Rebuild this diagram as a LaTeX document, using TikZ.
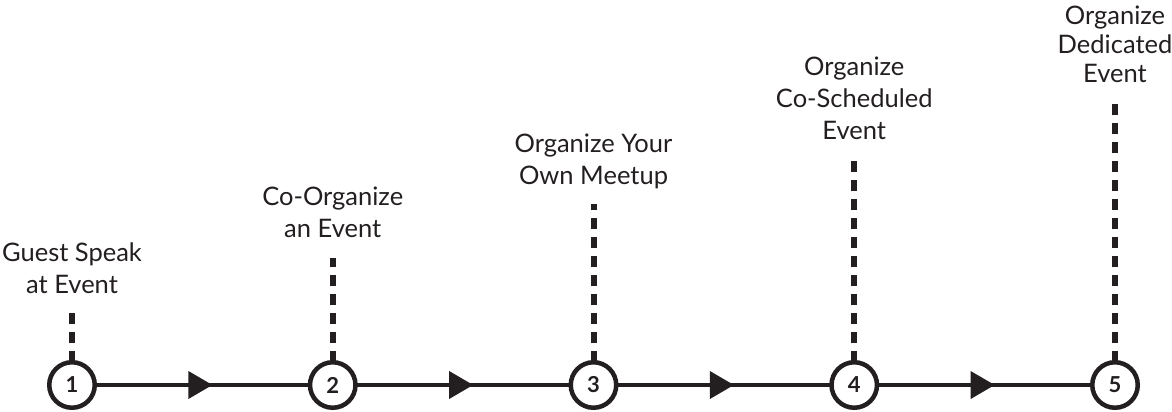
\documentclass[tikz,border=0pt]{standalone}
\usepackage{fontspec}
\setmainfont{Lato}
\usetikzlibrary{decorations.markings}
\definecolor{ink}{HTML}{231F20}
\begin{document}
\begin{tikzpicture}[x=1pt,y=-1pt, every path/.style={color=ink},
  stepnode/.style={circle, draw=ink, text=ink, line width=4.5pt, minimum size=45.5pt, inner sep=0pt, outer sep=0pt,
    font=\fontsize{22}{22}\selectfont\bfseries},
  flow/.style={draw=ink, line width=4.3pt, postaction={decorate},
    decoration={markings, mark=at position 0.5 with {\fill[ink] (-14pt,14pt) -- (10pt,0pt) -- (-14pt,-14pt) -- cycle;}}},
  riser/.style={draw=ink, line width=6pt, dash pattern=on 11.5pt off 7.5pt},
  steptext/.style={anchor=south, inner sep=0pt, align=center, text depth=0pt, text=ink,
    font=\fontsize{25.5}{32}\selectfont},
  steptextb/.style={steptext, font=\fontsize{25.5}{29}\selectfont}
]
\useasboundingbox (0,0) rectangle (1172,412);
\node[stepnode] (n1) at (72,385) {1};
\node[stepnode] (n2) at (332.75,385) {2};
\node[stepnode] (n3) at (593.5,385) {3};
\node[stepnode] (n4) at (854.25,385) {4};
\node[stepnode] (n5) at (1115,385) {5};
\draw[flow] (n1) -- (n2);
\draw[flow] (n2) -- (n3);
\draw[flow] (n3) -- (n4);
\draw[flow] (n4) -- (n5);
\coordinate (t1) at (72,313);
\coordinate (t2) at (332.75,258);
\coordinate (t3) at (593.5,204);
\coordinate (t4) at (854.25,160);
\coordinate (t5) at (1115,104);
\draw[riser] (n1.north) -- (t1);
\draw[riser] (n2.north) -- (t2);
\draw[riser] (n3.north) -- (t3);
\draw[riser] (n4.north) -- (t4);
\draw[riser] (n5.north) -- (t5);
\node[steptext] (l1) at (72,294) {Guest Speak\\at Event};
\node[steptext] (l2) at (332.75,238) {Co-Organize\\an Event};
\node[steptext] (l3) at (593.5,185) {Organize Your\\Own Meetup};
\node[steptext] (l4) at (854.25,140) {Organize\\Co-Scheduled\\Event};
\node[steptextb] (l5) at (1115,83) {Organize\\Dedicated\\Event};
\end{tikzpicture}
\end{document}
